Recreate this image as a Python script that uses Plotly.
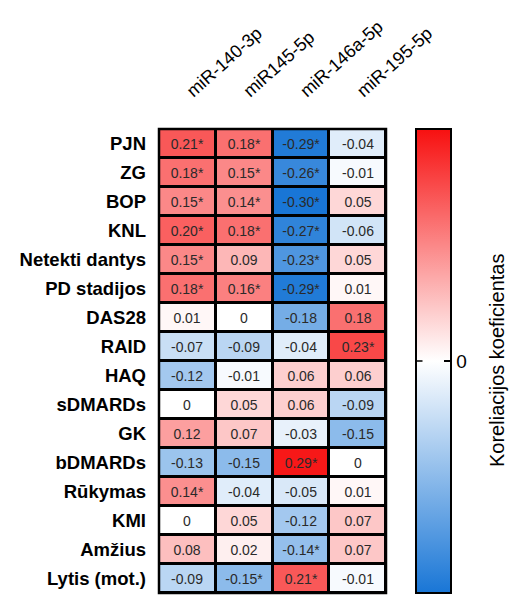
import plotly.graph_objects as go

# Correlation heatmap: clinical parameters vs. miRNA expression
mirnas = ["miR-140-3p", "miR145-5p", "miR-146a-5p", "miR-195-5p"]
params = ["PJN", "ZG", "BOP", "KNL", "Netekti dantys", "PD stadijos", "DAS28",
          "RAID", "HAQ", "sDMARDs", "GK", "bDMARDs", "Rūkymas", "KMI",
          "Amžius", "Lytis (mot.)"]

r_140 = [0.21, 0.18, 0.15, 0.20, 0.15, 0.18, 0.01, -0.07, -0.12, 0, 0.12, -0.13, 0.14, 0, 0.08, -0.09]
r_145 = [0.18, 0.15, 0.14, 0.18, 0.09, 0.16, 0, -0.09, -0.01, 0.05, 0.07, -0.15, -0.04, 0.05, 0.02, -0.15]
r_146a = [-0.29, -0.26, -0.30, -0.27, -0.23, -0.29, -0.18, -0.04, 0.06, 0.06, -0.03, 0.29, -0.05, -0.12, -0.14, 0.21]
r_195 = [-0.04, -0.01, 0.05, -0.06, 0.05, 0.01, 0.18, 0.23, 0.06, -0.09, -0.15, 0, 0.01, 0.07, 0.07, -0.01]

# significance flags (p < 0.05)
sig_140 = [1, 1, 1, 1, 1, 1, 0, 0, 0, 0, 0, 0, 1, 0, 0, 0]
sig_145 = [1, 1, 1, 1, 0, 1, 0, 0, 0, 0, 0, 0, 0, 0, 0, 1]
sig_146a = [1, 1, 1, 1, 1, 1, 0, 0, 0, 0, 0, 1, 0, 0, 1, 1]
sig_195 = [0, 0, 0, 0, 0, 0, 0, 1, 0, 0, 0, 0, 0, 0, 0, 0]

cols = [r_140, r_145, r_146a, r_195]
sigs = [sig_140, sig_145, sig_146a, sig_195]

FONT = "Liberation Sans, Arial"
PLOT_W = 509 - 159 - 123
CB_X = (416 - 159) / PLOT_W   # left edge of the colour bar (paper units)
CB_W = 35                     # colour bar thickness (px)


def fmt(v, s):
    t = "0" if v == 0 else f"{v:.2f}"
    return t + ("*" if s else "")


z = [[cols[j][i] for j in range(4)] for i in range(len(params))]
txt = [[fmt(cols[j][i], sigs[j][i]) for j in range(4)] for i in range(len(params))]

fig = go.Figure(go.Heatmap(
    z=z, x=mirnas, y=params, text=txt, texttemplate="%{text}",
    textfont=dict(size=14, color="#2a2a2a", family=FONT),
    zmin=-0.3, zmax=0.3,
    colorscale=[[0, "#1976D6"], [0.5, "#FFFFFF"], [1, "#F71010"]],
    xgap=3, ygap=3,
    colorbar=dict(
        x=CB_X, xanchor="left", xref="paper", xpad=0, ypad=0,
        y=1.0, yanchor="top", len=1.0, lenmode="fraction",
        thickness=CB_W, outlinewidth=2, outlinecolor="black",
        tickvals=[0], ticktext=["0"], ticks="inside", ticklen=8,
        tickwidth=1.5, tickcolor="black", ticklabelposition="outside",
        tickfont=dict(size=19, family=FONT, color="black"),
    ),
))

# outer frame of the grid
fig.add_shape(type="rect", xref="paper", yref="paper", x0=0, x1=1, y0=0, y1=1,
              line=dict(color="black", width=2.5), fillcolor="rgba(0,0,0,0)")

# matching zero tick on the left edge of the colour bar
fig.add_annotation(text="", xref="paper", yref="paper", x=CB_X, y=0.5,
                   ax=8, ay=0, axref="pixel", ayref="pixel", showarrow=True,
                   arrowhead=0, arrowwidth=1.5, arrowcolor="black",
                   standoff=0, startstandoff=0)

# colour bar title
fig.add_annotation(text="Koreliacijos koeficientas", xref="paper", yref="paper",
                   x=(497 - 159) / PLOT_W, y=0.5, textangle=-90, showarrow=False,
                   xanchor="center", yanchor="middle",
                   font=dict(size=20, family=FONT, color="black"))

fig.update_xaxes(side="top", tickangle=-42, showgrid=False, zeroline=False,
                 ticks="", ticklabelstandoff=24,
                 tickfont=dict(size=18, family=FONT, color="black"))
fig.update_yaxes(autorange="reversed", showgrid=False, zeroline=False, ticks="",
                 ticklabelstandoff=12,
                 tickvals=params, ticktext=[f"<b>{p}</b>" for p in params],
                 tickfont=dict(size=18.5, family=FONT, color="black"))

fig.update_layout(
    width=509, height=595,
    margin=dict(l=159, r=123, t=129, b=2),
    plot_bgcolor="black", paper_bgcolor="white",
)

fig.write_html("out.html")
